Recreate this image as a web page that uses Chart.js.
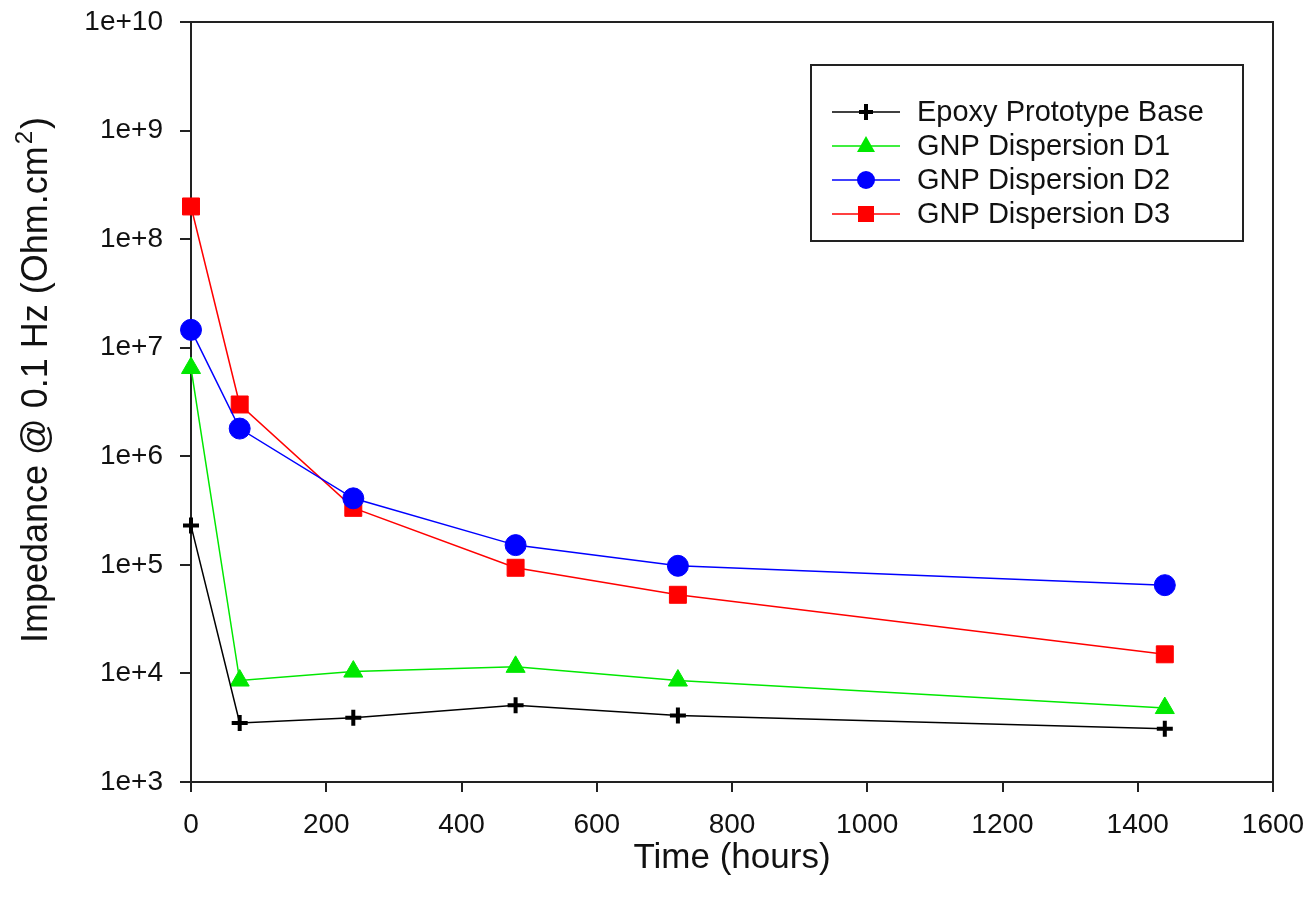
<!DOCTYPE html>
<html>
<head>
<meta charset="utf-8">
<title>Impedance vs time</title>
<script src="https://cdn.jsdelivr.net/npm/chart.js@4.4.1/dist/chart.umd.min.js"></script>
<style>
  body { margin: 0; background: #fff; }
  #grafico { display: block; }
</style>
</head>
<body>
<canvas id="grafico" width="1313" height="911"></canvas>
<script>
// dados (tempo em horas, impedancia em Ohm.cm2)
var horas = [0, 72, 240, 480, 720, 1440];
var epoxyBase = [2.3e5, 3.5e3, 3.9e3, 5.1e3, 4.1e3, 3.1e3];
var gnpD1 = [6.5e6, 8.6e3, 1.04e4, 1.15e4, 8.6e3, 4.8e3];
var gnpD2 = [1.46e7, 1.8e6, 4.1e5, 1.52e5, 9.8e4, 6.5e4];
var gnpD3 = [2.0e8, 3.0e6, 3.35e5, 9.4e4, 5.3e4, 1.5e4];

var nomes = ['Epoxy Prototype Base', 'GNP Dispersion D1', 'GNP Dispersion D2', 'GNP Dispersion D3'];

// marcas dos eixos
var marcasX = [0, 200, 400, 600, 800, 1000, 1200, 1400, 1600];
var marcasY = [1e3, 1e4, 1e5, 1e6, 1e7, 1e8, 1e9, 1e10];
var rotulosY = ['1e+3', '1e+4', '1e+5', '1e+6', '1e+7', '1e+8', '1e+9', '1e+10'];

var fonte = '"Liberation Sans", Arial, sans-serif';
var corEixo = '#222';

function pontos(valores) {
    var lista = [];
    for (var i = 0; i < horas.length; i++) {
        lista.push({ x: horas[i], y: valores[i] });
    }
    return lista;
}

function serie(nome, valores, cor, estilo, raio, borda) {
    return {
        label: nome,
        data: pontos(valores),
        borderColor: cor,
        backgroundColor: cor,
        borderWidth: 1.5,
        pointStyle: estilo,
        pointRadius: raio,
        pointHoverRadius: raio,
        pointBorderWidth: borda,
        pointBorderColor: cor,
        pointBackgroundColor: cor,
        tension: 0,
        clip: false
    };
}

var dados = {
    datasets: [
        serie(nomes[0], epoxyBase, '#000000', 'cross', 8, 4),
        serie(nomes[1], gnpD1, '#00e800', 'triangle', 11, 1),
        serie(nomes[2], gnpD2, '#0000ff', 'circle', 10.5, 1),
        serie(nomes[3], gnpD3, '#ff0000', 'rect', 12, 1)
    ]
};

// simbolo da legenda
function desenharSimbolo(ctx, estilo, cor, x, y) {
    ctx.save();
    ctx.fillStyle = cor;
    ctx.strokeStyle = cor;
    ctx.beginPath();
    if (estilo == 'cross') {
        ctx.lineWidth = 4;
        ctx.moveTo(x - 7, y); ctx.lineTo(x + 7, y);
        ctx.moveTo(x, y - 8); ctx.lineTo(x, y + 8);
        ctx.stroke();
    } else if (estilo == 'triangle') {
        ctx.moveTo(x, y - 10);
        ctx.lineTo(x + 9, y + 6);
        ctx.lineTo(x - 9, y + 6);
        ctx.closePath();
        ctx.fill();
    } else if (estilo == 'circle') {
        ctx.arc(x, y, 9, 0, Math.PI * 2);
        ctx.fill();
    } else {
        ctx.rect(x - 8, y - 8, 16, 16);
        ctx.fill();
    }
    ctx.restore();
}

var moldura = {
    id: 'moldura',
    afterDraw: function (chart) {
        var ctx = chart.ctx;
        var area = chart.chartArea;

        // linhas de cima e da direita
        ctx.save();
        ctx.strokeStyle = corEixo;
        ctx.lineWidth = 2;
        ctx.beginPath();
        ctx.moveTo(area.left, area.top);
        ctx.lineTo(area.right, area.top);
        ctx.lineTo(area.right, area.bottom);
        ctx.stroke();

        // titulo do eixo y (com o 2 sobrescrito)
        ctx.fillStyle = '#111';
        ctx.translate(47, 643);
        ctx.rotate(-Math.PI / 2);
        ctx.textAlign = 'left';
        ctx.textBaseline = 'alphabetic';
        ctx.font = '36px ' + fonte;
        var parte1 = 'Impedance @ 0.1 Hz (Ohm.cm';
        ctx.fillText(parte1, 0, 0);
        var pos = ctx.measureText(parte1).width + 2;
        ctx.font = '24px ' + fonte;
        ctx.fillText('2', pos, -15);
        pos += ctx.measureText('2').width + 2;
        ctx.font = '36px ' + fonte;
        ctx.fillText(')', pos, 0);
        ctx.restore();

        // legenda
        ctx.save();
        ctx.strokeStyle = corEixo;
        ctx.lineWidth = 2;
        ctx.strokeRect(811, 65, 432, 176);
        ctx.font = '29px ' + fonte;
        ctx.fillStyle = '#111';
        ctx.textBaseline = 'middle';
        var ds = chart.data.datasets;
        for (var i = 0; i < ds.length; i++) {
            var y = 112 + i * 34;
            ctx.strokeStyle = ds[i].borderColor;
            ctx.lineWidth = 1.5;
            ctx.beginPath();
            ctx.moveTo(832, y);
            ctx.lineTo(900, y);
            ctx.stroke();
            desenharSimbolo(ctx, ds[i].pointStyle, ds[i].borderColor, 866, y);
            ctx.fillText(ds[i].label, 917, y + 1);
        }
        ctx.restore();
    }
};

var config = {
    type: 'line',
    data: dados,
    options: {
        responsive: false,
        animation: false,
        devicePixelRatio: 1,
        layout: { padding: { left: 0, top: 22, right: 40, bottom: 0 } },
        plugins: {
            legend: { display: false },
            tooltip: { enabled: false }
        },
        scales: {
            x: {
                type: 'linear',
                min: 0,
                max: 1600,
                afterBuildTicks: function (eixo) {
                    eixo.ticks = marcasX.map(function (v) { return { value: v }; });
                },
                afterFit: function (eixo) {
                    eixo.height = 129;
                    eixo.paddingLeft = 0;
                    eixo.paddingRight = 0;
                },
                grid: {
                    drawOnChartArea: false,
                    drawTicks: true,
                    tickLength: 10,
                    color: corEixo,
                    lineWidth: 2
                },
                border: { display: true, color: corEixo, width: 2 },
                ticks: {
                    color: '#111',
                    padding: 16,
                    maxRotation: 0,
                    font: { family: fonte, size: 28 },
                    callback: function (valor) { return String(valor); }
                },
                title: {
                    display: true,
                    text: 'Time (hours)',
                    color: '#111',
                    font: { family: fonte, size: 35 },
                    padding: { top: 0, bottom: 32 }
                }
            },
            y: {
                type: 'logarithmic',
                min: 1e3,
                max: 1e10,
                afterBuildTicks: function (eixo) {
                    eixo.ticks = marcasY.map(function (v) { return { value: v }; });
                },
                afterFit: function (eixo) {
                    eixo.width = 191;
                    eixo.paddingTop = 0;
                    eixo.paddingBottom = 0;
                },
                grid: {
                    drawOnChartArea: false,
                    drawTicks: true,
                    tickLength: 11,
                    color: corEixo,
                    lineWidth: 2
                },
                border: { display: true, color: corEixo, width: 2 },
                ticks: {
                    color: '#111',
                    padding: 17,
                    font: { family: fonte, size: 28 },
                    callback: function (valor) {
                        var idx = marcasY.indexOf(valor);
                        return idx >= 0 ? rotulosY[idx] : '';
                    }
                }
            }
        }
    },
    plugins: [moldura]
};

var grafico = new Chart(document.getElementById('grafico'), config);
</script>
</body>
</html>
